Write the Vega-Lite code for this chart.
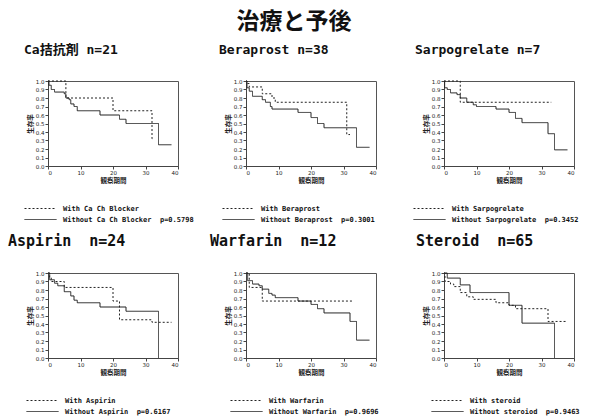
{
  "$schema": "https://vega.github.io/schema/vega-lite/v6.json",
  "background": "white",
  "autosize": {"type": "pad"},
  "padding": {"left": 7, "top": 10, "right": 0, "bottom": 0},
  "title": {"text": "治療と予後", "anchor": "middle", "frame": "bounds", "offset": 10, "font": "Noto Sans CJK JP", "fontSize": 23, "fontWeight": "bold", "color": "#111"},
  "columns": 3,
  "spacing": {"row": 107, "column": 68},
  "bounds": "flush",
  "config": {
    "view": {"stroke": "#555", "strokeWidth": 1},
    "axis": {"labelFont": "DejaVu Sans", "labelFontSize": 5.5, "labelColor": "#222", "tickSize": 3, "tickColor": "#444", "domainColor": "#444", "grid": false, "titleFont": "Noto Sans CJK JP", "titleFontSize": 6.5, "titleFontWeight": "bold", "titleColor": "#222", "labelPadding": 1, "titlePadding": 2},
    "line": {"stroke": "#222", "strokeWidth": 1, "interpolate": "step-after"},
    "legend": {"title": null, "orient": "none", "legendY": 124, "padding": 0, "symbolType": "M-8,0H8", "symbolSize": 16, "symbolStrokeColor": "#222", "symbolStrokeWidth": 1, "symbolFillColor": "transparent", "labelOffset": 19, "labelFont": "DejaVu Sans Mono", "labelFontWeight": "bold", "labelFontSize": 7, "labelColor": "#111", "labelLimit": 400, "rowPadding": 3},
    "title": {"anchor": "start", "frame": "group", "offset": 22, "baseline": "alphabetic", "font": "DejaVu Sans Mono, Noto Sans CJK JP", "fontSize": 13, "fontWeight": "bold", "color": "#111"}
  },
  "resolve": {"scale": {"strokeDash": "independent", "x": "independent", "y": "independent"}, "legend": {"strokeDash": "independent"}},
  "concat": [
    {
      "width": 130, "height": 85,
      "title": {"text": "Ca拮抗剤\u00a0n=21", "dx": -24},
      "data": {"values": [
        {"g": "With Ca Ch Blocker", "t": 0, "s": 1},
        {"g": "With Ca Ch Blocker", "t": 5.5, "s": 0.8},
        {"g": "With Ca Ch Blocker", "t": 20, "s": 0.65},
        {"g": "With Ca Ch Blocker", "t": 32, "s": 0.32},
        {"g": "With Ca Ch Blocker", "t": 32.5, "s": 0.32},
        {"g": "Without Ca Ch Blocker", "t": 0, "s": 1},
        {"g": "Without Ca Ch Blocker", "t": 0.3, "s": 0.95},
        {"g": "Without Ca Ch Blocker", "t": 1, "s": 0.9},
        {"g": "Without Ca Ch Blocker", "t": 2, "s": 0.87},
        {"g": "Without Ca Ch Blocker", "t": 5, "s": 0.85},
        {"g": "Without Ca Ch Blocker", "t": 5.5, "s": 0.8},
        {"g": "Without Ca Ch Blocker", "t": 6.5, "s": 0.78},
        {"g": "Without Ca Ch Blocker", "t": 7, "s": 0.73},
        {"g": "Without Ca Ch Blocker", "t": 8, "s": 0.7},
        {"g": "Without Ca Ch Blocker", "t": 9, "s": 0.65},
        {"g": "Without Ca Ch Blocker", "t": 16, "s": 0.6},
        {"g": "Without Ca Ch Blocker", "t": 22, "s": 0.55},
        {"g": "Without Ca Ch Blocker", "t": 24, "s": 0.5},
        {"g": "Without Ca Ch Blocker", "t": 34, "s": 0.25},
        {"g": "Without Ca Ch Blocker", "t": 38, "s": 0.25}
      ]},
      "mark": "line",
      "encoding": {
        "x": {"field": "t", "type": "quantitative", "scale": {"domain": [0, 40], "nice": false}, "axis": {"values": [0, 10, 20, 30, 40], "title": "観察期間"}},
        "y": {"field": "s", "type": "quantitative", "scale": {"domain": [0, 1]}, "axis": {"values": [0, 0.1, 0.2, 0.3, 0.4, 0.5, 0.6, 0.7, 0.8, 0.9, 1], "format": ".1f", "title": "生存率"}},
        "strokeDash": {"field": "g", "type": "nominal", "scale": {"domain": ["With Ca Ch Blocker", "Without Ca Ch Blocker"], "range": [[2, 2], [1, 0]]}, "legend": {"legendX": -11, "labelExpr": "indexof(datum.label,'Without')==0 ? datum.label + '\u00a0\u00a0p=0.5798' : '\u00a0\u00a0\u00a0\u00a0' + datum.label"}}
      }
    },
    {
      "width": 130, "height": 85,
      "title": {"text": "Beraprost\u00a0n=38", "dx": -27},
      "data": {"values": [
        {"g": "With Beraprost", "t": 0, "s": 1},
        {"g": "With Beraprost", "t": 0.3, "s": 0.97},
        {"g": "With Beraprost", "t": 1, "s": 0.93},
        {"g": "With Beraprost", "t": 5, "s": 0.85},
        {"g": "With Beraprost", "t": 8, "s": 0.8},
        {"g": "With Beraprost", "t": 9, "s": 0.75},
        {"g": "With Beraprost", "t": 31, "s": 0.37},
        {"g": "With Beraprost", "t": 32, "s": 0.37},
        {"g": "Without Beraprost", "t": 0, "s": 1},
        {"g": "Without Beraprost", "t": 0.3, "s": 0.92},
        {"g": "Without Beraprost", "t": 1, "s": 0.88},
        {"g": "Without Beraprost", "t": 2, "s": 0.82},
        {"g": "Without Beraprost", "t": 5, "s": 0.78},
        {"g": "Without Beraprost", "t": 6, "s": 0.75},
        {"g": "Without Beraprost", "t": 7.5, "s": 0.7},
        {"g": "Without Beraprost", "t": 8, "s": 0.67},
        {"g": "Without Beraprost", "t": 16, "s": 0.63},
        {"g": "Without Beraprost", "t": 20, "s": 0.57},
        {"g": "Without Beraprost", "t": 22, "s": 0.5},
        {"g": "Without Beraprost", "t": 24, "s": 0.45},
        {"g": "Without Beraprost", "t": 34, "s": 0.22},
        {"g": "Without Beraprost", "t": 38, "s": 0.22}
      ]},
      "mark": "line",
      "encoding": {
        "x": {"field": "t", "type": "quantitative", "scale": {"domain": [0, 40], "nice": false}, "axis": {"values": [0, 10, 20, 30, 40], "title": "観察期間"}},
        "y": {"field": "s", "type": "quantitative", "scale": {"domain": [0, 1]}, "axis": {"values": [0, 0.1, 0.2, 0.3, 0.4, 0.5, 0.6, 0.7, 0.8, 0.9, 1], "format": ".1f", "title": "生存率"}},
        "strokeDash": {"field": "g", "type": "nominal", "scale": {"domain": ["With Beraprost", "Without Beraprost"], "range": [[2, 2], [1, 0]]}, "legend": {"legendX": -11, "labelExpr": "indexof(datum.label,'Without')==0 ? datum.label + '\u00a0\u00a0p=0.3001' : '\u00a0\u00a0\u00a0\u00a0' + datum.label"}}
      }
    },
    {
      "width": 130, "height": 85,
      "title": {"text": "Sarpogrelate\u00a0n=7", "dx": -29},
      "data": {"values": [
        {"g": "With Sarpogrelate", "t": 0, "s": 1},
        {"g": "With Sarpogrelate", "t": 5, "s": 0.75},
        {"g": "With Sarpogrelate", "t": 33, "s": 0.75},
        {"g": "Without Sarpogrelate", "t": 0, "s": 1},
        {"g": "Without Sarpogrelate", "t": 0.2, "s": 0.92},
        {"g": "Without Sarpogrelate", "t": 1, "s": 0.9},
        {"g": "Without Sarpogrelate", "t": 2, "s": 0.86},
        {"g": "Without Sarpogrelate", "t": 4, "s": 0.84},
        {"g": "Without Sarpogrelate", "t": 5, "s": 0.8},
        {"g": "Without Sarpogrelate", "t": 7, "s": 0.75},
        {"g": "Without Sarpogrelate", "t": 9, "s": 0.72},
        {"g": "Without Sarpogrelate", "t": 10, "s": 0.7},
        {"g": "Without Sarpogrelate", "t": 16, "s": 0.67},
        {"g": "Without Sarpogrelate", "t": 20, "s": 0.63},
        {"g": "Without Sarpogrelate", "t": 22, "s": 0.56},
        {"g": "Without Sarpogrelate", "t": 24, "s": 0.51},
        {"g": "Without Sarpogrelate", "t": 32, "s": 0.38},
        {"g": "Without Sarpogrelate", "t": 34, "s": 0.19},
        {"g": "Without Sarpogrelate", "t": 38, "s": 0.19}
      ]},
      "mark": "line",
      "encoding": {
        "x": {"field": "t", "type": "quantitative", "scale": {"domain": [0, 40], "nice": false}, "axis": {"values": [0, 10, 20, 30, 40], "title": "観察期間"}},
        "y": {"field": "s", "type": "quantitative", "scale": {"domain": [0, 1]}, "axis": {"values": [0, 0.1, 0.2, 0.3, 0.4, 0.5, 0.6, 0.7, 0.8, 0.9, 1], "format": ".1f", "title": "生存率"}},
        "strokeDash": {"field": "g", "type": "nominal", "scale": {"domain": ["With Sarpogrelate", "Without Sarpogrelate"], "range": [[2, 2], [1, 0]]}, "legend": {"legendX": -18, "labelExpr": "indexof(datum.label,'Without')==0 ? datum.label + '\u00a0\u00a0p=0.3452' : '\u00a0\u00a0\u00a0\u00a0' + datum.label"}}
      }
    },
    {
      "width": 130, "height": 85,
      "title": {"text": "Aspirin\u00a0\u00a0n=24", "dx": -40, "fontSize": 15},
      "data": {"values": [
        {"g": "With Aspirin", "t": 0, "s": 1},
        {"g": "With Aspirin", "t": 0.5, "s": 0.95},
        {"g": "With Aspirin", "t": 1, "s": 0.9},
        {"g": "With Aspirin", "t": 5, "s": 0.83},
        {"g": "With Aspirin", "t": 20, "s": 0.67},
        {"g": "With Aspirin", "t": 22, "s": 0.45},
        {"g": "With Aspirin", "t": 32, "s": 0.42},
        {"g": "With Aspirin", "t": 38, "s": 0.42},
        {"g": "Without Aspirin", "t": 0, "s": 1},
        {"g": "Without Aspirin", "t": 0.5, "s": 0.92},
        {"g": "Without Aspirin", "t": 2, "s": 0.88},
        {"g": "Without Aspirin", "t": 3, "s": 0.85},
        {"g": "Without Aspirin", "t": 5, "s": 0.78},
        {"g": "Without Aspirin", "t": 7, "s": 0.73},
        {"g": "Without Aspirin", "t": 8, "s": 0.68},
        {"g": "Without Aspirin", "t": 9, "s": 0.65},
        {"g": "Without Aspirin", "t": 16, "s": 0.6},
        {"g": "Without Aspirin", "t": 24, "s": 0.55},
        {"g": "Without Aspirin", "t": 34, "s": 0}
      ]},
      "mark": "line",
      "encoding": {
        "x": {"field": "t", "type": "quantitative", "scale": {"domain": [0, 40], "nice": false}, "axis": {"values": [0, 10, 20, 30, 40], "title": "観察期間"}},
        "y": {"field": "s", "type": "quantitative", "scale": {"domain": [0, 1]}, "axis": {"values": [0, 0.1, 0.2, 0.3, 0.4, 0.5, 0.6, 0.7, 0.8, 0.9, 1], "format": ".1f", "title": "生存率"}},
        "strokeDash": {"field": "g", "type": "nominal", "scale": {"domain": ["With Aspirin", "Without Aspirin"], "range": [[2, 2], [1, 0]]}, "legend": {"legendX": -9, "labelExpr": "indexof(datum.label,'Without')==0 ? datum.label + '\u00a0\u00a0p=0.6167' : '\u00a0\u00a0\u00a0\u00a0' + datum.label"}}
      }
    },
    {
      "width": 130, "height": 85,
      "title": {"text": "Warfarin\u00a0\u00a0n=12", "dx": -36, "fontSize": 15},
      "data": {"values": [
        {"g": "With Warfarin", "t": 0, "s": 1},
        {"g": "With Warfarin", "t": 1, "s": 0.83},
        {"g": "With Warfarin", "t": 5, "s": 0.67},
        {"g": "With Warfarin", "t": 33, "s": 0.67},
        {"g": "Without Warfarin", "t": 0, "s": 1},
        {"g": "Without Warfarin", "t": 0.5, "s": 0.91},
        {"g": "Without Warfarin", "t": 2, "s": 0.87},
        {"g": "Without Warfarin", "t": 4, "s": 0.85},
        {"g": "Without Warfarin", "t": 5, "s": 0.81},
        {"g": "Without Warfarin", "t": 7, "s": 0.76},
        {"g": "Without Warfarin", "t": 8, "s": 0.74},
        {"g": "Without Warfarin", "t": 9, "s": 0.71},
        {"g": "Without Warfarin", "t": 16, "s": 0.67},
        {"g": "Without Warfarin", "t": 20, "s": 0.63},
        {"g": "Without Warfarin", "t": 22, "s": 0.58},
        {"g": "Without Warfarin", "t": 24, "s": 0.53},
        {"g": "Without Warfarin", "t": 32, "s": 0.43},
        {"g": "Without Warfarin", "t": 34, "s": 0.21},
        {"g": "Without Warfarin", "t": 38, "s": 0.21}
      ]},
      "mark": "line",
      "encoding": {
        "x": {"field": "t", "type": "quantitative", "scale": {"domain": [0, 40], "nice": false}, "axis": {"values": [0, 10, 20, 30, 40], "title": "観察期間"}},
        "y": {"field": "s", "type": "quantitative", "scale": {"domain": [0, 1]}, "axis": {"values": [0, 0.1, 0.2, 0.3, 0.4, 0.5, 0.6, 0.7, 0.8, 0.9, 1], "format": ".1f", "title": "生存率"}},
        "strokeDash": {"field": "g", "type": "nominal", "scale": {"domain": ["With Warfarin", "Without Warfarin"], "range": [[2, 2], [1, 0]]}, "legend": {"legendX": -3, "labelExpr": "indexof(datum.label,'Without')==0 ? datum.label + '\u00a0\u00a0p=0.9696' : '\u00a0\u00a0\u00a0\u00a0' + datum.label"}}
      }
    },
    {
      "width": 130, "height": 85,
      "title": {"text": "Steroid\u00a0\u00a0n=65", "dx": -28, "fontSize": 15},
      "data": {"values": [
        {"g": "With steroid", "t": 0, "s": 1},
        {"g": "With steroid", "t": 0.3, "s": 0.9},
        {"g": "With steroid", "t": 2, "s": 0.87},
        {"g": "With steroid", "t": 3, "s": 0.84},
        {"g": "With steroid", "t": 5, "s": 0.77},
        {"g": "With steroid", "t": 7, "s": 0.72},
        {"g": "With steroid", "t": 9, "s": 0.69},
        {"g": "With steroid", "t": 16, "s": 0.65},
        {"g": "With steroid", "t": 20, "s": 0.62},
        {"g": "With steroid", "t": 22, "s": 0.58},
        {"g": "With steroid", "t": 32, "s": 0.43},
        {"g": "With steroid", "t": 38, "s": 0.43},
        {"g": "Without steroiod", "t": 0, "s": 1},
        {"g": "Without steroiod", "t": 1, "s": 0.94},
        {"g": "Without steroiod", "t": 5, "s": 0.86},
        {"g": "Without steroiod", "t": 8, "s": 0.77},
        {"g": "Without steroiod", "t": 20, "s": 0.62},
        {"g": "Without steroiod", "t": 24, "s": 0.41},
        {"g": "Without steroiod", "t": 34, "s": 0}
      ]},
      "mark": "line",
      "encoding": {
        "x": {"field": "t", "type": "quantitative", "scale": {"domain": [0, 40], "nice": false}, "axis": {"values": [0, 10, 20, 30, 40], "title": "観察期間"}},
        "y": {"field": "s", "type": "quantitative", "scale": {"domain": [0, 1]}, "axis": {"values": [0, 0.1, 0.2, 0.3, 0.4, 0.5, 0.6, 0.7, 0.8, 0.9, 1], "format": ".1f", "title": "生存率"}},
        "strokeDash": {"field": "g", "type": "nominal", "scale": {"domain": ["With steroid", "Without steroiod"], "range": [[2, 2], [1, 0]]}, "legend": {"legendX": 0, "labelExpr": "indexof(datum.label,'Without')==0 ? datum.label + '\u00a0\u00a0p=0.9463' : '\u00a0\u00a0\u00a0\u00a0' + datum.label"}}
      }
    }
  ]
}
